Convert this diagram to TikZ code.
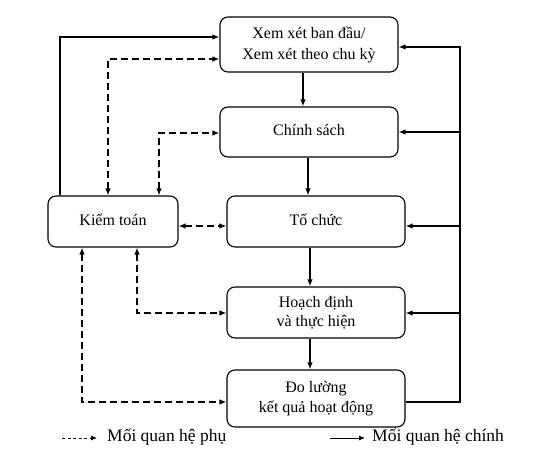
\documentclass[tikz,border=0pt]{standalone}
\usepackage{fontspec}
\setmainfont{Liberation Serif}
\usetikzlibrary{arrows.meta}
\begin{document}
\begin{tikzpicture}[x=1pt,y=-1pt,
 boxst/.style={draw, line width=1.1pt, rounded corners=8pt, align=center, font=\fontsize{16}{21}\selectfont, inner sep=0pt, minimum width=178pt},
 solidarr/.style={line width=1.4pt, -{Latex[length=7pt,width=5.5pt]}},
 dasharr/.style={line width=1.4pt, dash pattern=on 7pt off 4pt, {Latex[length=7pt,width=5.5pt]}-{Latex[length=7pt,width=5.5pt]}},
 legtext/.style={anchor=west, font=\fontsize{17.5}{20}\selectfont, inner sep=0pt}
]
\useasboundingbox (0,0) rectangle (554,468);
% boxes
\node[boxst, minimum height=55pt] (b1) at (309,44.5) {Xem xét ban đầu/\\Xem xét theo chu kỳ};
\node[boxst, minimum height=50pt] (b2) at (309,132) {\raisebox{4pt}{Chính sách}};
\node[boxst, minimum height=51pt] (b3) at (316,221.5) {\raisebox{4pt}{Tổ chức}};
\node[boxst, minimum height=51pt, minimum width=130pt] (ka) at (113,221.5) {\raisebox{4pt}{Kiểm toán}};
\node[boxst, minimum height=51pt, font=\fontsize{16}{19}\selectfont] (b4) at (316,312.5) {Hoạch định\\và thực hiện};
\node[boxst, minimum height=57pt, font=\fontsize{16}{20}\selectfont] (b5) at (316,398.5) {Đo lường\\kết quả hoạt động};
% main vertical flow
\draw[solidarr] ([xshift=-6pt]b1.south) -- ([xshift=-6pt]b1.south |- b2.north);
\draw[solidarr] ([xshift=-1pt]b2.south) -- ([xshift=-1pt]b2.south |- b3.north);
\draw[solidarr] ([xshift=-6pt]b3.south) -- ([xshift=-6pt]b4.north);
\draw[solidarr] ([xshift=-6pt]b4.south) -- ([xshift=-6pt]b5.north);
% right feedback
\coordinate (rb) at (460,402);
\coordinate (rt) at (460,47);
\draw[solidarr] ([yshift=-3.5pt]b5.east) -- (rb) -- (rt) -- ([yshift=-2.5pt]b1.east);
\draw[solidarr] (rt |- b2.east) -- (b2.east);
\draw[solidarr] ([yshift=-4.5pt]rt |- b3.east) -- ([yshift=-4.5pt]b3.east);
\draw[solidarr] ([yshift=-0.5pt]rt |- b4.east) -- ([yshift=-0.5pt]b4.east);
% left solid
\draw[solidarr] ([xshift=-53pt]ka.north) |- ([yshift=7.5pt]b1.west);
% dashed relations
\draw[dasharr] ([xshift=-5pt]ka.north) |- ([yshift=-14.5pt]b1.west);
\draw[dasharr] ([xshift=46pt]ka.north) |- ([yshift=-1pt]b2.west);
\draw[dasharr] ([yshift=-4.5pt]ka.east) -- ([yshift=-4.5pt]b3.west);
\draw[dasharr] ([xshift=24pt]ka.south) |- ([yshift=-0.5pt]b4.west);
\draw[dasharr] ([xshift=-31pt]ka.south) |- ([yshift=-3.5pt]b5.west);
% legend
\coordinate (l1a) at (62,438);
\coordinate (l1b) at (97,438);
\coordinate (l2a) at (330,438);
\coordinate (l2b) at (365,438);
\draw[line width=0.9pt, dash pattern=on 3pt off 2.5pt, -{Latex[length=6pt,width=5pt]}] (l1a) -- (l1b);
\node[legtext] (lt1) at (107,437) {Mối quan hệ phụ};
\draw[line width=0.9pt, -{Latex[length=6pt,width=5pt]}] (l2a) -- (l2b);
\node[legtext] (lt2) at (372,437) {Mối quan hệ chính};
\end{tikzpicture}
\end{document}
